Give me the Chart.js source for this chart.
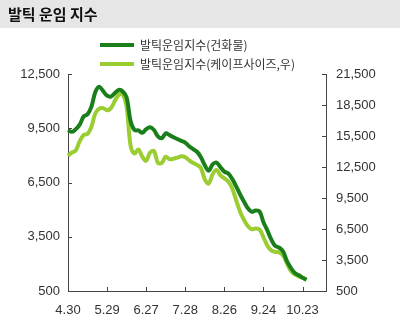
<!DOCTYPE html>
<html><head><meta charset="utf-8">
<script src="https://cdn.jsdelivr.net/npm/chart.js@4/dist/chart.umd.min.js"></script>
<style>html,body{margin:0;padding:0;background:#fff}canvas{display:block}</style>
</head><body>
<canvas id="c" width="400" height="333"></canvas>
<script>
const chartTitle = '발틱 운임 지수';
const seriesNames = ['발틱운임지수(건화물)', '발틱운임지수(케이프사이즈,우)'];
const tickDates = ['4.30', '5.29', '6.27', '7.28', '8.26', '9.24', '10.23'];
const leftTicks = [500, 3500, 6500, 9500, 12500];
const rightTicks = [500, 3500, 6500, 9500, 12500, 15500, 18500, 21500];
// 건화물 (left axis)
const dryBulk = [
  9400, 9300, 9450, 9700, 10150, 10280, 10700, 11500, 11800, 11550,
  11300, 11250, 11450, 11620, 11530, 11200, 9900, 9400, 9380, 9250,
  9450, 9550, 9400, 9050, 8950, 9220, 9120, 9000, 8900, 8800,
  8700, 8500, 8350, 8200, 7900, 7450, 7150, 7500, 7600, 7350,
  7100, 7000, 6700, 6300, 5850, 5450, 5080, 4880, 4950, 4900,
  4300, 3850, 3350, 3000, 2900, 2700, 2150, 1780, 1500, 1370,
  1240, 1120
];
// 케이프사이즈 (right axis)
const capesize = [
  13600, 13900, 14100, 15000, 15600, 15700, 16400, 17700, 18150, 18200,
  18000, 18200, 18900, 19500, 19500, 18300, 14600, 13800, 14200, 13500,
  13100, 13900, 14050, 12900, 12900, 13500, 13250, 13300, 13400, 13550,
  13450, 13150, 12900, 12700, 12400, 11300, 10900, 11800, 12200, 11700,
  11400, 11100, 10450, 9300, 8200, 7400, 6780, 6470, 6560, 6450,
  5700, 4880, 4430, 4280, 4240, 3950, 3200, 2450, 2100, 1920,
  1780, 1590
];
const perInterval = 10;
const totalSlots = 67;
const categories = [];
for (let i = 0; i < totalSlots; i++) {
  categories.push(i % perInterval === 0 && tickDates[i / perInterval] ? tickDates[i / perInterval] : '');
}
const DARK = '#1a7f1a', LIGHT = '#9acd32', AXIS = '#444', TXT = '#333';
const tickFont = { family: "'Liberation Sans', Arial, sans-serif", size: 13 };
const fmt = v => Number(v).toLocaleString('en-US');

const bgPlugin = {
  id: 'bg',
  beforeDraw(chart) {
    const ctx = chart.ctx;
    ctx.save();
    ctx.fillStyle = '#fff';
    ctx.fillRect(0, 0, chart.width, chart.height);
    ctx.fillStyle = '#e6e6e6';
    ctx.fillRect(0, 0, chart.width, 28);
    ctx.restore();
    const lg = chart.legend;
    if (lg) { lg.left += 25; lg.top += 6; lg.bottom += 6; }
  }
};
const innerTicks = {
  id: 'innerTicks',
  afterDatasetsDraw(chart) {
    const ctx = chart.ctx, a = chart.chartArea;
    ctx.save();
    ctx.strokeStyle = AXIS; ctx.lineWidth = 1;
    ctx.beginPath();
    const yl = chart.scales.y, yr = chart.scales.y2, x = chart.scales.x;
    yl.ticks.forEach(t => { if (t.value === yl.min) return; const p = Math.round(yl.getPixelForValue(t.value)) + 0.5; ctx.moveTo(a.left, p); ctx.lineTo(a.left + 4, p); });
    yr.ticks.forEach(t => { if (t.value === yr.min) return; const p = Math.round(yr.getPixelForValue(t.value)) + 0.5; ctx.moveTo(a.right, p); ctx.lineTo(a.right - 4, p); });
    categories.forEach((c, i) => { if (!c || i === 0) return; const p = Math.round(x.getPixelForValue(i)) + 0.5; ctx.moveTo(p, a.bottom); ctx.lineTo(p, a.bottom - 4); });
    ctx.stroke();
    ctx.restore();
  }
};

new Chart(document.getElementById('c'), {
  type: 'line',
  data: {
    labels: categories,
    datasets: [
      { label: seriesNames[0], data: dryBulk, borderColor: DARK, backgroundColor: DARK, borderWidth: 4, pointRadius: 0, tension: 0.35, yAxisID: 'y' },
      { label: seriesNames[1], data: capesize, borderColor: LIGHT, backgroundColor: LIGHT, borderWidth: 4, pointRadius: 0, tension: 0.35, yAxisID: 'y2' }
    ]
  },
  options: {
    responsive: false,
    animation: false,
    layout: { padding: { top: -2, left: 8, right: 0, bottom: 0 } },
    plugins: {
      tooltip: { enabled: false },
      title: {
        display: true, text: chartTitle, align: 'start', color: '#111',
        font: { family: "'Noto Sans CJK KR', sans-serif", size: 15, weight: 'bold', lineHeight: 1.2 },
        padding: { top: 7, bottom: 3 }
      },
      legend: {
        display: true, position: 'top', align: 'start', fullSize: false,
        labels: {
          boxWidth: 34, boxHeight: 4, padding: 7, color: TXT,
          font: { family: "'Noto Sans CJK KR', sans-serif", size: 12 },
          generateLabels(chart) {
            return Chart.defaults.plugins.legend.labels.generateLabels(chart).map(l => Object.assign(l, { fillStyle: l.strokeStyle, lineWidth: 0 }));
          }
        }
      }
    },
    scales: {
      x: {
        type: 'category', offset: false,
        grid: { display: false, drawTicks: false },
        border: { display: true, color: AXIS, width: 1 },
        ticks: { autoSkip: false, maxRotation: 0, padding: 12, color: TXT, font: tickFont },
        afterFit(s) { s.height = 42; }
      },
      y: {
        position: 'left', min: 500, max: 12500,
        grid: { display: false, drawTicks: false },
        border: { display: true, color: AXIS, width: 1 },
        ticks: { padding: 8, color: TXT, font: tickFont, callback: v => fmt(v) },
        afterBuildTicks(s) { s.ticks = leftTicks.map(v => ({ value: v })); },
        afterFit(s) { s.width = 60; }
      },
      y2: {
        position: 'right', min: 500, max: 21500,
        grid: { display: false, drawTicks: false },
        border: { display: true, color: AXIS, width: 1 },
        ticks: { padding: 10, color: TXT, font: tickFont, callback: v => fmt(v) },
        afterBuildTicks(s) { s.ticks = rightTicks.map(v => ({ value: v })); },
        afterFit(s) { s.width = 74; }
      }
    }
  },
  plugins: [bgPlugin, innerTicks]
});
</script>
</body></html>
